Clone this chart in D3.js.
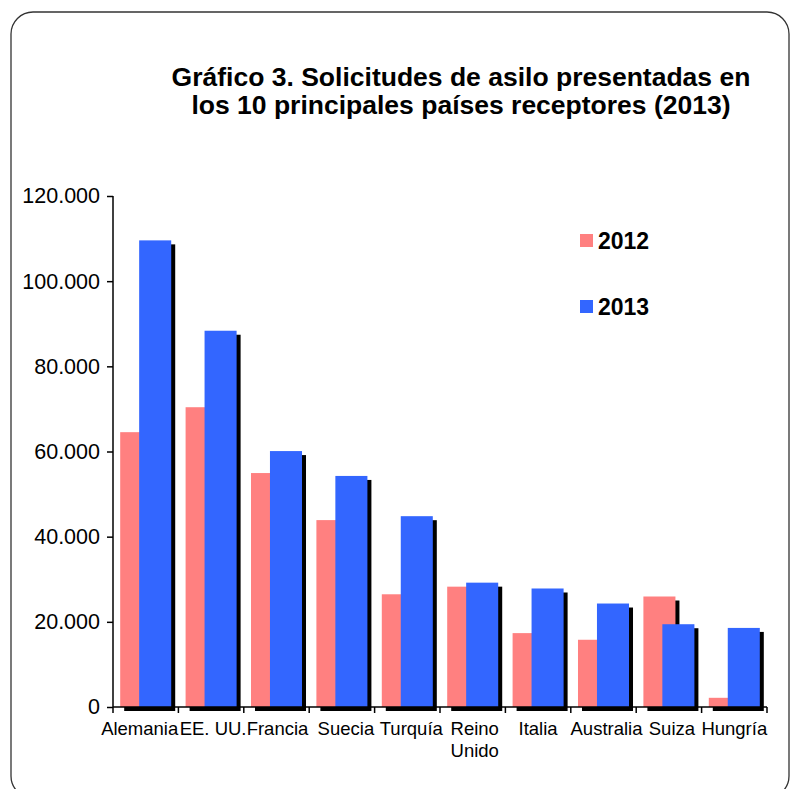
<!DOCTYPE html>
<html>
<head>
<meta charset="utf-8">
<script src="https://cdn.jsdelivr.net/npm/d3@7"></script>
<style>
  body { margin: 0; background: #fff; }
  svg text { font-family: Arial, "Liberation Sans", sans-serif; fill: #000; }
</style>
</head>
<body>
<svg id="chart" width="790" height="789"></svg>
<script>
// datos
var paises = ["Alemania", "EE. UU.", "Francia", "Suecia", "Turquía", "Reino Unido", "Italia", "Australia", "Suiza", "Hungría"];
var sol2012 = [64540, 70400, 54940, 43890, 26470, 28260, 17350, 15790, 25950, 2160];
var sol2013 = [109580, 88360, 60100, 54260, 44810, 29200, 27830, 24300, 19440, 18570];
var yTicks = [0, 20000, 40000, 60000, 80000, 100000, 120000];
var series = [
  { name: "2012", values: sol2012, color: "#FF8080" },
  { name: "2013", values: sol2013, color: "#3366FF" }
];

// pequeños ajustes horizontales de las etiquetas (como las coloca Excel)
var labelNudge = [-6, 2, 1, 4, 4, 2, 0, 3, 3, 0];

var svg = d3.select("#chart");

// marco redondeado
svg.append("rect")
  .attr("x", 11).attr("y", 12)
  .attr("width", 778).attr("height", 786)
  .attr("rx", 22).attr("ry", 22)
  .attr("fill", "none")
  .attr("stroke", "#333")
  .attr("stroke-width", 1.3);

// titulo
var title = svg.append("text")
  .attr("text-anchor", "middle")
  .style("font-weight", "bold")
  .style("font-size", "26.5px");
title.append("tspan").attr("x", 461).attr("y", 86).text("Gráfico 3. Solicitudes de asilo presentadas en");
title.append("tspan").attr("x", 461).attr("y", 114).text("los 10 principales países receptores (2013)");

var x = d3.scaleBand().domain(paises).range([113, 767]);
var y = d3.scaleLinear().domain([0, 120000]).range([707, 196]);
var bw = x.bandwidth();
var offsets = [0.11, 0.40];
var barW = bw * 0.49;

// sombras y barras, serie por serie
series.forEach(function(s, si) {
  var g = svg.append("g");
  g.selectAll("rect.shadow")
    .data(s.values)
    .enter().append("rect")
      .attr("class", "shadow")
      .attr("x", function(d, i) { return x(paises[i]) + bw * offsets[si] + 4; })
      .attr("y", function(d) { return y(d) + 4; })
      .attr("width", barW)
      .attr("height", function(d) { return y(0) - y(d); })
      .attr("fill", "#000");
  g.selectAll("rect.bar")
    .data(s.values)
    .enter().append("rect")
      .attr("class", "bar")
      .attr("x", function(d, i) { return x(paises[i]) + bw * offsets[si]; })
      .attr("y", function(d) { return y(d); })
      .attr("width", barW)
      .attr("height", function(d) { return y(0) - y(d); })
      .attr("fill", s.color);
});

// eje y
var yAxis = svg.append("g")
  .attr("transform", "translate(113,0)")
  .call(d3.axisLeft(y).tickValues(yTicks).tickSize(6).tickPadding(7)
    .tickFormat(function(d) { return d3.format(",")(d).replace(/,/g, "."); }));
yAxis.select(".domain").attr("stroke", "#000").attr("stroke-width", 1.5).attr("d", "M0,196V707");
yAxis.selectAll(".tick line").attr("stroke", "#000").attr("stroke-width", 1.5);
yAxis.selectAll(".tick text").style("font-size", "21.5px").attr("fill", "#000");

// eje x con marcas en los limites de categoria
svg.append("line")
  .attr("x1", 113).attr("x2", 767)
  .attr("y1", y(0)).attr("y2", y(0))
  .attr("stroke", "#000").attr("stroke-width", 1.5);
svg.append("g").selectAll("line")
  .data(paises.concat(["fin"]))
  .enter().append("line")
    .attr("x1", function(d, i) { return 113 + i * bw; })
    .attr("x2", function(d, i) { return 113 + i * bw; })
    .attr("y1", y(0)).attr("y2", y(0) + 6)
    .attr("stroke", "#000").attr("stroke-width", 1.5);

var labels = svg.append("g").selectAll("text")
  .data(paises)
  .enter().append("text")
    .attr("text-anchor", "middle")
    .style("font-size", "18.5px")
    .attr("y", 735);
labels.each(function(d, i) {
  var t = d3.select(this);
  var cx = x(d) + bw / 2 + labelNudge[i];
  if (d === "Reino Unido") {
    t.append("tspan").attr("x", cx).attr("dy", 0).text("Reino");
    t.append("tspan").attr("x", cx).attr("dy", 22).text("Unido");
  } else {
    t.attr("x", cx).text(d);
  }
});

// leyenda
var legend = svg.append("g").selectAll("g")
  .data(series)
  .enter().append("g")
    .attr("transform", function(d, i) { return "translate(580," + (234 + i * 66) + ")"; });
legend.append("rect")
  .attr("width", 13).attr("height", 13)
  .attr("fill", function(d) { return d.color; });
legend.append("text")
  .attr("x", 18).attr("y", 14.5)
  .style("font-size", "23px").style("font-weight", "bold")
  .text(function(d) { return d.name; });
</script>
</body>
</html>
